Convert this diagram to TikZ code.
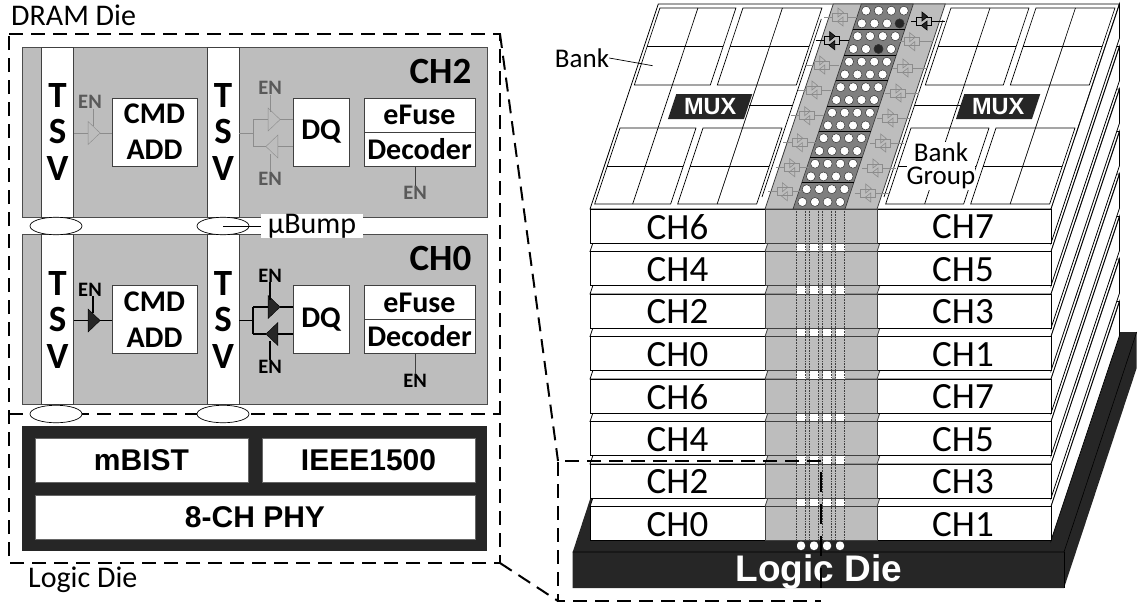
\documentclass[tikz,border=0pt]{standalone}
\usepackage{fontspec}
\setmainfont{Carlito}
\newfontfamily\arialfont{Liberation Sans}
\usepackage{xcolor}
\usetikzlibrary{positioning, shapes.geometric}
\definecolor{chgray}{HTML}{BDBDBD}
\definecolor{blockgray}{HTML}{7F7F7F}
\definecolor{diedark}{HTML}{262626}
\definecolor{engray}{HTML}{595959}
\definecolor{bufgray}{HTML}{8C8C8C}
\newcommand{\lblfont}{\fontsize{30}{30}\selectfont}
\newcommand{\bankfont}{\fontsize{27}{22.5}\selectfont}
\newcommand{\rowfont}{\fontsize{37}{37}\selectfont}
\newcommand{\boxfont}{\fontsize{30}{36}\selectfont\bfseries}
\newcommand{\enfont}{\fontsize{20.5}{20.5}\selectfont\bfseries}
\newcommand{\phyfont}{\arialfont\fontsize{30}{30}\selectfont\bfseries}
\tikzset{
  onplane/.style={shift={(69.6,0)}, xslant=0.333},
  layeredge/.style={draw=black, fill=white, line width=0.8pt},
  bandedge/.style={draw=black!75, fill=chgray, line width=0.8pt},
  diedash/.style={draw=black, line width=2pt, dash pattern=on 14pt off 8pt},
  whitebox/.style={draw=black!75, fill=white, line width=0.8pt, inner sep=0pt, align=center, font=\boxfont},
  tsvbox/.style={whitebox, minimum width=32, minimum height=170, font=\fontsize{37}{36.5}\selectfont\bfseries},
  bumpoval/.style={ellipse, draw=black, fill=white, line width=0.7pt, minimum width=52, minimum height=17.5, inner sep=0pt},
  phybox/.style={draw=black!60, fill=white, inner sep=0pt, font=\phyfont},
  buftri/.style={isosceles triangle, isosceles triangle apex angle=88, isosceles triangle stretches,
    minimum width=23, minimum height=12, inner sep=0pt},
  hole/.style={circle, draw=black!80, fill=white, minimum size=9pt, inner sep=0pt, line width=0.5pt},
  pics/bufpair/.style n args={3}{code={
    \draw (-#1,0) -- (-7.5,0);
    \draw (7.5,0) -- (#2,0);
    \draw (-7.5,-4) rectangle (7.5,4);
    \draw[fill=#3] (-2,-9) -- (-2,0) -- (3.5,-4.5) -- cycle;
    \draw[fill=#3] (3,9) -- (3,0) -- (-2.7,4.5) -- cycle;
  }},
}
\begin{document}
\begin{tikzpicture}[x=1pt, y=-1pt]
  \useasboundingbox (0,0) rectangle (1139,605);

  % logic die under the stack
  \fill[diedark] (572.7,552) -- (645,332) -- (1136.7,332) -- (1136.7,368) -- (1064,588) -- (572.7,588) -- cycle;
  \draw[black, line width=0.6pt] (572.7,552) -- (1064,552) -- (1136.7,332);
  \draw[black, line width=0.6pt] (1064,552) -- (1064,588);

  % DRAM layers, bottom one first
  \foreach \k in {7,6,...,0} {
    \pgfmathsetmacro\dy{42.5*\k}
    \begin{scope}[shift={(0,\dy)}]
      \begin{scope}[onplane]
        \draw[layeredge] (590,209) -- (1051,209) -- (1051,4) -- (590,4) -- cycle;
        \draw[bandedge] (765,209) rectangle (877,4);
      \end{scope}
      \draw[layeredge] (1051,209) -- (1119.5,4) -- (1119.5,38) -- (1051,243) -- cycle;
      \draw[layeredge] (590,209) rectangle (1051,243);
      \draw[bandedge] (765,209) rectangle (877,243);
    \end{scope}
  }
  \foreach \k/\lft/\rgt in {0/CH6/CH7,1/CH4/CH5,2/CH2/CH3,3/CH0/CH1,4/CH6/CH7,5/CH4/CH5,6/CH2/CH3,7/CH0/CH1} {
    \node[font=\rowfont, inner sep=0pt] (row\k l) at (677.5,{227+42.5*\k}) {\lft};
    \node[font=\rowfont, inner sep=0pt] (row\k r) at (963,{227+42.5*\k}) {\rgt};
  }

  % top plane of the stack
  \begin{scope}[onplane]
    % bank groups
    \foreach \ul/\ur in {593/669,676/755,884/962,969/1048} {
      \foreach \yt/\yb in {8/85,128/204} {
        \draw[line width=0.7pt] (\ul,\yt) rectangle (\ur,\yb);
        \draw[line width=0.7pt] (\ul,{(\yt+\yb)/2}) -- (\ur,{(\yt+\yb)/2});
      }
      \draw[line width=0.7pt] ({(\ul+\ur)/2},8) -- ({(\ul+\ur)/2},204);
    }
    % frame beside the band
    \draw[line width=0.7pt] (758,19) -- (758,197);
    \draw[line width=0.7pt] (880,20) -- (880,197);
    \draw[line width=0.7pt] (714,105) -- (758,105);
    \draw[line width=0.7pt] (880,105) -- (926,105);
    % MUX blocks
    \fill[diedark] (638,94) rectangle (714,119);
    \fill[diedark] (926,94) rectangle (1002,119);
    \node[text=white, font=\arialfont\fontsize{23.5}{23.5}\selectfont\bfseries] (muxl) at (676,106.5) {MUX};
    \node[text=white, font=\arialfont\fontsize{23.5}{23.5}\selectfont\bfseries] (muxr) at (964,106.5) {MUX};
    % TSV block
    \draw[draw=black!80, fill=blockgray, line width=0.6pt] (793,4) rectangle (845,209);
    \foreach \y in {29.5,55,80.5,106,131.5,157,182.5} {
      \draw[black, line width=0.9pt] (793,\y) -- (845,\y);
    }
    \foreach \j in {0,...,15} {
      \foreach \i in {0,...,3} {
        \node[hole] (h\i\j) at ({800+12.6*\i},{10.7+12.75*\j}) {};
      }
    }
    \node[hole, fill=diedark] (hd31) at (h31) {};
    \node[hole, fill=diedark] (hd23) at (h23) {};
  \end{scope}

  % buffers on the band
  \foreach \x/\y in {840/17,821.7/65,814/90,806.7/115.7,799.3/142.7,791.7/167.7,784.3/191.7} {
    \pic[draw=bufgray, line width=0.6pt] at (\x,\y) {bufpair={16}{17}{none}};
  }
  \foreach \x/\y in {911.7/41.7,905/68,898/93,890/118,882.7/143,875/168,867.7/193} {
    \pic[draw=bufgray, line width=0.6pt] at (\x,\y) {bufpair={13}{21}{none}};
  }
  \pic[draw=black, line width=0.6pt] at (831.7,40.7) {bufpair={16}{17}{diedark}};
  \pic[draw=black, line width=0.6pt] at (924,21) {bufpair={13}{21}{diedark}};

  % vias down the stack
  \foreach \x in {801,814,827,840} {
    \foreach \k in {0,...,6} {
      \fill[white] (\x-4.5,{243.6+42.5*\k}) rectangle (\x+4.5,{251.2+42.5*\k});
    }
    \draw[black!75, densely dotted, line width=0.6pt] (\x-4.5,209) -- (\x-4.5,541.5);
    \draw[black!75, densely dotted, line width=0.6pt] (\x+4.5,209) -- (\x+4.5,541.5);
    \fill[white, rounded corners=3.5pt] (\x-4,541.5) -- (\x-4,550) -- (\x+4,550) -- (\x+4,541.5) -- cycle;
  }

  \node[fill=white, inner sep=0pt, minimum width=65, minimum height=48, align=center, font=\bankfont] (bankgroup) at (941,166) {Bank\\Group};
  \node[font=\bankfont, inner sep=0pt] (banklbl) at (582,58) {Bank};
  \coordinate (bankcell) at (652.6,65.7);
  \draw[line width=0.7pt] (banklbl.east) -- (bankcell);
  \node[text=white, anchor=base, inner sep=0pt, font=\arialfont\fontsize{37}{37}\selectfont\bfseries] (logicdie) at (819,581.7) {Logic Die};

  % left panel, outline first
  \coordinate (dramNW) at (9,34);
  \coordinate (dramNE) at (500,34);
  \coordinate (dramW) at (9,414);
  \coordinate (dramE) at (500,414);
  \coordinate (logicSW) at (9,563);
  \coordinate (logicSE) at (500,563);
  \draw[diedash] (dramNW) -- (dramNE) -- (logicSE) -- (logicSW) -- cycle;
  \draw[diedash] (dramW) -- (dramE);
  \node[anchor=base west, inner sep=0pt, font=\lblfont] (dramlbl) at (11,25.7) {DRAM Die};
  \node[anchor=base west, inner sep=0pt, font=\lblfont] (logiclbl) at (28,587.3) {Logic Die};

  % CH2 and CH0 are the same floorplan
  \foreach \ch/\dy/\encol/\wirecol/\tribg/\wirew in {2/0/engray/bufgray/none/0.8,0/187.5/black/black/diedark/1.6} {
    \begin{scope}[shift={(0,\dy)}]
      \node[draw=black!70, fill=chgray, line width=0.8pt, minimum width=465, minimum height=170, inner sep=0pt] (chbox\ch) at (254.5,132) {};
      \node[anchor=base east, inner sep=0pt, font=\fontsize{37}{37}\selectfont\bfseries] (chlbl\ch) at (471.5,83.3) {CH\ch};
      \node[tsvbox] (tsva\ch) at (57.5,132) {T\\S\\V};
      \node[tsvbox] (tsvb\ch) at (223,132) {T\\S\\V};
      \node[whitebox, minimum width=85, minimum height=68] (cmd\ch) at (154.5,132) {CMD\\ADD};
      \node[whitebox, minimum width=56, minimum height=68] (dq\ch) at (321,132) {DQ};
      \node[whitebox, minimum width=111, minimum height=34] (efuse\ch) at (419.5,115) {eFuse};
      \node[whitebox, minimum width=111, minimum height=34] (dec\ch) at (419.5,149) {Decoder};

      \node[buftri, draw=\wirecol, fill=\tribg] (bufc\ch) at (93,133) {};
      \node[buftri, draw=\wirecol, fill=\tribg] (bufu\ch) at (273,119.5) {};
      \node[buftri, draw=\wirecol, fill=\tribg, shape border rotate=180] (bufd\ch) at (273,146.5) {};
      \coordinate (dqj\ch) at (253,133);

      \node[text=\encol, font=\enfont, inner sep=0pt] (enc\ch) at (90,102) {EN};
      \node[text=\encol, font=\enfont, inner sep=0pt] (enu\ch) at (270,88) {EN};
      \node[text=\encol, font=\enfont, inner sep=0pt] (end\ch) at (270,179) {EN};
      \node[text=\encol, font=\enfont, inner sep=0pt] (enf\ch) at (415,193) {EN};

      \begin{scope}[draw=\wirecol, line width=\wirew pt]
        \draw (tsva\ch.east |- bufc\ch.west) -- (bufc\ch.west);
        \draw (bufc\ch.east) -- (cmd\ch.west |- bufc\ch.east);
        \draw (enc\ch.south -| bufc\ch.north) -- (bufc\ch.north);
        \draw (tsvb\ch.east |- dqj\ch) -- (dqj\ch);
        \draw (dqj\ch |- bufu\ch.west) -- (dqj\ch |- bufd\ch.west);
        \draw (dqj\ch |- bufu\ch.west) -- (bufu\ch.west);
        \draw (bufu\ch.east) -- (dq\ch.west |- bufu\ch.east);
        \draw (dqj\ch |- bufd\ch.west) -- (bufd\ch.west);
        \draw (bufd\ch.east) -- (dq\ch.west |- bufd\ch.east);
        \draw (enu\ch.south) -- (enu\ch.south |- bufu\ch.north);
        \draw (end\ch.north) -- (end\ch.north |- bufd\ch.south);
      \end{scope}
      \draw[draw=black!75, line width=0.8pt] (dec\ch.south -| enf\ch.north) -- (enf\ch.north);
    \end{scope}
  }

  % bumps between the channels and on the logic die
  \foreach \n/\x/\y in {a/56/226,b/223/226,c/56/414,d/223/414} {
    \node[bumpoval] (bump\n) at (\x,\y) {};
  }
  \node[fill=white, inner sep=0pt, minimum width=102, minimum height=18, font=\lblfont] (ubump) at (312,226) {µBump};
  \draw[line width=0.7pt] (bumpb.center) -- (ubump.west);

  % logic die floorplan
  \node[fill=diedark, minimum width=465, minimum height=124.5, inner sep=0pt] (logicbox) at (254.5,488.5) {};
  \node[phybox, minimum width=213, minimum height=44] (mbist) at (141.5,460.5) {mBIST};
  \node[phybox, minimum width=213, minimum height=44] (ieee) at (368.5,460.5) {IEEE1500};
  \node[phybox, minimum width=440, minimum height=44] (phy) at (255,517) {8-CH PHY};

  % zoom window and its two guide lines
  \coordinate (zoomNW) at (558,461);
  \coordinate (zoomNE) at (821,461);
  \coordinate (zoomSW) at (558,601);
  \coordinate (zoomSE) at (821,601);
  \draw[diedash] (zoomNE) -- (zoomNW) -- (zoomSW) -- (zoomSE);
  \draw[diedash] (dramNE) -- (zoomNW);
  \draw[diedash] (logicSE) -- (zoomSW);
  \draw[black, line width=2.4pt, dash pattern=on 20pt off 12pt] (821,472) -- (821,592);
\end{tikzpicture}
\end{document}
